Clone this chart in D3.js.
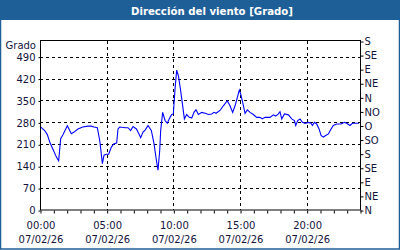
<!DOCTYPE html>
<html><head><meta charset="utf-8">
<script src="https://cdn.jsdelivr.net/npm/d3@7"></script>
<style>
html,body{margin:0;padding:0;background:#fff;}
text{font-family:"DejaVu Sans",Verdana,sans-serif;}
</style></head>
<body><svg id="c" width="400" height="250"></svg>
<script>
const title = "Dirección del viento [Grado]";
const yUnit = "Grado";
const hours = [0.0,0.35,0.55,0.73,0.98,1.23,1.4,1.55,1.73,2.05,2.35,2.55,2.85,3.2,3.6,3.85,4.05,4.3,4.48,4.68,4.8,4.98,5.15,5.35,5.55,5.75,5.85,5.98,6.4,6.6,6.8,6.98,7.23,7.35,7.55,7.73,7.9,8.1,8.35,8.55,8.73,8.85,8.98,9.05,9.2,9.38,9.55,9.75,9.88,10.0,10.13,10.25,10.38,10.55,10.68,10.83,11.0,11.2,11.38,11.55,11.7,11.88,12.13,12.38,12.63,12.88,13.05,13.2,13.5,13.75,14.05,14.25,14.45,14.63,14.8,14.95,15.05,15.2,15.38,15.55,15.75,16.0,16.25,16.5,16.67,16.88,17.25,17.5,17.68,17.88,18.0,18.13,18.33,18.63,18.88,19.08,19.18,19.33,19.5,19.68,19.88,20.13,20.33,20.43,20.58,20.75,20.93,21.08,21.25,21.43,21.63,21.83,22.0,22.25,22.58,22.83,23.0,23.25,23.43,23.68,23.93];
const values = [267,254,241,217,193,169,157,228,241,269,244,249,259,265,268,268,265,263,222,148,175,178,178,201,212,214,259,265,263,263,254,267,259,249,231,249,256,270,254,212,159,127,191,254,312,286,277,296,305,307,387,447,429,381,339,291,305,296,294,312,320,305,312,309,305,307,312,309,318,333,349,333,312,333,360,383,371,344,309,320,312,305,296,296,291,296,296,304,300,307,314,291,307,304,291,286,270,286,291,280,277,280,277,270,280,275,259,238,233,238,243,259,270,275,275,280,277,270,277,277,277];
const leftTicks = [0,70,140,210,280,350,420,490];
const rightTicks = [0,45,90,135,180,225,270,315,360,405,450,495,540];
const rightLabels = ["N","NE","E","SE","S","SO","O","NO","N","NE","E","SE","S"];
const majorHours = [0,5,10,15,20];
const majorLabels = ["00:00","05:00","10:00","15:00","20:00"];
const dateLabel = "07/02/26";
const minorHours = d3.range(0,25,1);

const svg = d3.select("#c");
const W=400,H=250;
const L=40,R=360,T=41,B=210;
const x = d3.scaleLinear().domain([0,24]).range([L,R]);
const y = d3.scaleLinear().domain([0,540]).range([B,T]);
const ink = "#14143c";
const blue = "#1f5f98";

svg.append("rect").attr("x",0).attr("y",0).attr("width",W).attr("height",H).attr("fill","#fff");
svg.append("rect").attr("x",0).attr("y",0).attr("width",W).attr("height",20).attr("fill",blue);
svg.append("rect").attr("x",0.5).attr("y",0.5).attr("width",W-1).attr("height",H-1.5)
  .attr("fill","none").attr("stroke",blue).attr("stroke-width",1.5);
svg.append("text").attr("x",212).attr("y",14.5).attr("text-anchor","middle")
  .attr("fill","#fff").attr("font-size","10.2px").attr("font-weight","bold").text(title);

// grid
const g = svg.append("g");
g.selectAll(".hg").data(leftTicks.filter(v=>v>0)).join("line")
  .attr("x1",L).attr("x2",R)
  .attr("y1",d=>Math.round(y(d))+0.5).attr("y2",d=>Math.round(y(d))+0.5)
  .attr("stroke","#000").attr("stroke-dasharray","3,3");
g.selectAll(".vg").data(majorHours.filter(h=>h>0)).join("line")
  .attr("x1",d=>Math.round(x(d))+0.5).attr("x2",d=>Math.round(x(d))+0.5)
  .attr("y1",T).attr("y2",B)
  .attr("stroke","#000").attr("stroke-dasharray","3,3");

// data line
const line = d3.line().x((d,i)=>x(hours[i])).y(d=>y(d));
svg.append("path").datum(values).attr("d",line)
  .attr("fill","none").attr("stroke","#0000ff").attr("stroke-width",1.1);

// frame
svg.append("rect").attr("x",L+0.5).attr("y",T-0.5).attr("width",R-L).attr("height",B-T+0.5)
  .attr("fill","none").attr("stroke","#000").attr("stroke-width",1);

// left axis
const la = svg.append("g").attr("transform",`translate(${L+0.5},0.5)`)
  .call(d3.axisLeft(y).tickValues(leftTicks).tickSize(2).tickPadding(3).tickFormat(d3.format("d")));
la.select(".domain").remove();
la.selectAll("text").attr("fill",ink).attr("font-size","10px").attr("font-family","DejaVu Sans");
la.selectAll("line").attr("stroke","#000");
svg.append("text").attr("x",36).attr("y",49).attr("text-anchor","end")
  .attr("fill",ink).attr("font-size","10px").text(yUnit);

// right axis
const ra = svg.append("g").attr("transform",`translate(${R+0.5},0.5)`)
  .call(d3.axisRight(y).tickValues(rightTicks).tickSize(3).tickPadding(1).tickFormat((d,i)=>rightLabels[i]));
ra.select(".domain").remove();
ra.selectAll("text").attr("fill",ink).attr("font-size","10px").attr("font-family","DejaVu Sans");
ra.selectAll("line").attr("stroke","#000");

// bottom minor ticks
const ma = svg.append("g").attr("transform",`translate(0.5,${B+0.5})`)
  .call(d3.axisBottom(x).tickValues(minorHours).tickSize(3).tickFormat(""));
ma.select(".domain").remove();
ma.selectAll("line").attr("stroke","#000");

// bottom labels
const ba = svg.append("g").attr("transform",`translate(0.5,${B})`)
  .call(d3.axisBottom(x).tickValues(majorHours).tickSize(0).tickPadding(0).tickFormat((d,i)=>majorLabels[i]));
ba.select(".domain").remove();
ba.selectAll("text").attr("fill",ink).attr("font-size","10px").attr("font-family","DejaVu Sans")
  .attr("dy",null).attr("y",null)
  .each(function(){
    const t = d3.select(this);
    const lbl = t.text();
    t.text(null);
    t.append("tspan").attr("x",0).attr("y",19).text(lbl);
    t.append("tspan").attr("x",0).attr("y",33).text(dateLabel);
  });
</script></body></html>
